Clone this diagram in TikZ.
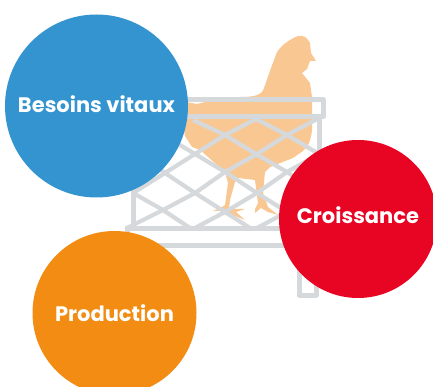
\documentclass[tikz,border=0pt]{standalone}
\usepackage{fontspec}
\setmainfont{Poppins}
\definecolor{cblue}{HTML}{3394D0}
\definecolor{cred}{HTML}{E80524}
\definecolor{corange}{HTML}{F28C12}
\definecolor{chick}{HTML}{F9C792}
\definecolor{cage}{HTML}{D6D9DC}
\tikzset{
  bubble/.style={circle,inner sep=0pt,minimum size=#1,text=white,font=\fontsize{21}{24}\selectfont\bfseries},
  bar/.style={draw=cage,line width=5pt,line join=round,line cap=round},
  lat/.style={draw=cage,line width=4.2pt,line cap=butt},
}
\begin{document}
\begin{tikzpicture}[x=1pt,y=-1pt]
\useasboundingbox (0,0) rectangle (433,387);
% chicken
\fill[chick] (298,36) -- (302,36) -- (305,37) -- (308,40) -- (310,43) -- (311,53) -- (316,61) -- (310,61) -- (307,69) -- (302,73)
 -- (310,83) -- (312,97) -- (312,130) .. controls (311,140) and (308,147) .. (303,151)
 -- (293,158) -- (270,167) -- (265,172) -- (263,193) -- (268,207) -- (278,215)
 -- (268,212) -- (261,208) -- (255,213) -- (255,209) -- (258,203) -- (255,180) -- (238,178) -- (235,182)
 -- (230,200) -- (229,209) -- (245,209) -- (236,212) -- (245,220) -- (230,214) -- (222,211) -- (213,211) -- (222,207)
 -- (225,205) -- (228,183) -- (225,172) -- (208,157) -- (200,150) -- (192,147) -- (185,136) -- (183,125)
 -- (186,102) -- (197,104) -- (205,102) -- (240,97) .. controls (255,97) and (262,95) .. (264,88)
 -- (271,68) -- (277,52) .. controls (281,46) and (288,40) .. (298,36) -- cycle;
% lattice
\draw[lat] (133,193) -- (165,173) -- (195,154) -- (225,135) -- (256,119);
\draw[lat] (127,228) -- (163,210) -- (195,193) -- (225,172) -- (257,154) -- (287,135) -- (319,118);
\draw[lat] (195,228) -- (225,212) -- (257,193) -- (287,172) -- (319,154);
\draw[lat] (257,228) -- (287,212) -- (319,193);
\draw[lat] (193,120) -- (225,135) -- (256,154) -- (287,172) -- (319,193);
\draw[lat] (256,119) -- (287,135) -- (319,154);
\draw[lat] (133,150) -- (165,173) -- (195,193) -- (225,212) -- (250,228);
\draw[lat] (133,193) -- (163,210) -- (190,228);
\draw[lat] (163,135) -- (195,154) -- (225,172) -- (257,193) -- (287,212) -- (312,228);
% cage frame
\draw[bar] (170,99.5) -- (323,99.5) -- (323,117) -- (170,117);
\draw[bar] (319,117) -- (319,240);
\draw[bar] (133,170) -- (133,228);
\draw[bar] (127,228) -- (300,228);
\draw[bar] (127,228) -- (127,245) -- (310,245);
\draw[bar] (299,240) -- (299,295) -- (316,295) -- (316,240);
% circles
\node[bubble=183pt,fill=cblue] (vitaux) at (96.5,106) {\raisebox{4.5pt}{Besoins vitaux}};
\node[bubble=158pt,fill=cred] (croissance) at (358,219) {\raisebox{7pt}{Croissance}};
\node[bubble=164pt,fill=corange] (production) at (114.5,313) {Production};
\end{tikzpicture}
\end{document}
